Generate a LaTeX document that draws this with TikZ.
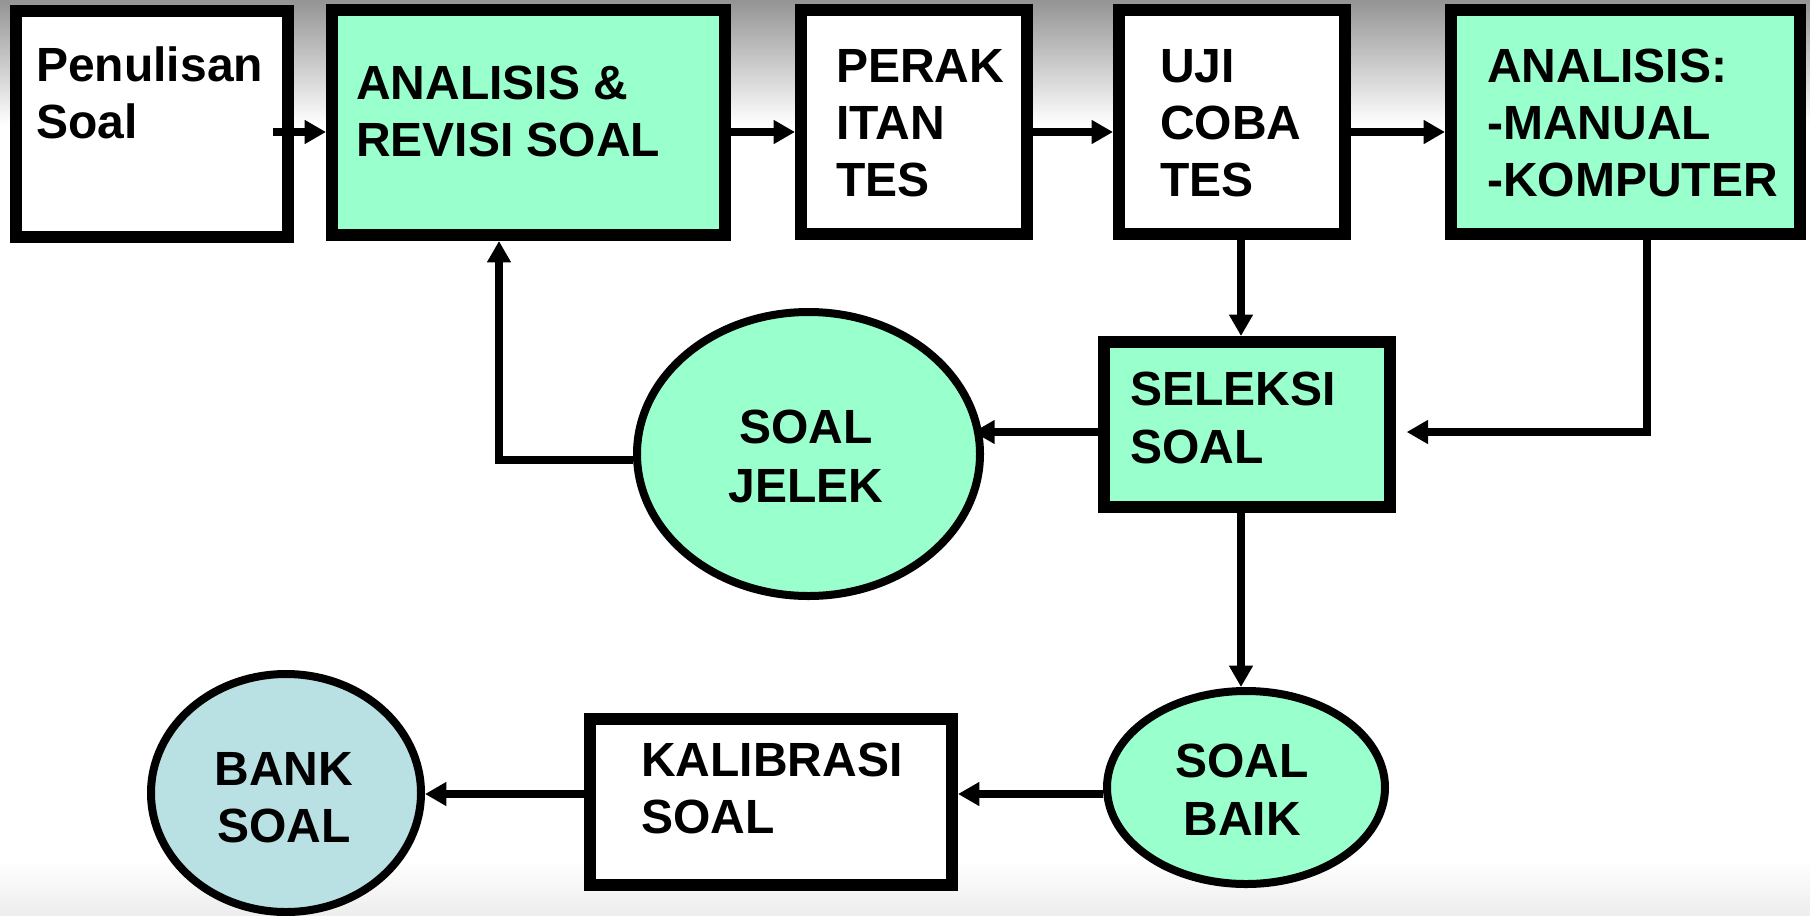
\documentclass[tikz,border=0pt]{standalone}
\usepackage{fontspec}
\setmainfont{Liberation Sans}
\usetikzlibrary{arrows.meta,shapes.geometric}
\definecolor{mint}{RGB}{153,255,204}
\definecolor{bankblue}{RGB}{185,224,227}
\begin{document}
\begin{tikzpicture}[x=0.75pt,y=-0.75pt,
  boxnode/.style={draw=black,line width=9pt,rectangle,inner sep=0pt},
  ellnode/.style={draw=black,line width=6pt,ellipse,inner sep=0pt,fill=mint},
  conn/.style={draw=black,line width=5.5pt,-{Triangle[length=16pt,width=17pt]}},
  lbl/.style={inner sep=0pt,font=\bfseries\fontsize{36pt}{43pt}\selectfont,anchor=base west},
  clbl/.style={lbl,anchor=base}]
\useasboundingbox (0,0) rectangle (1810,915);
% background shading
\fill[white] (0,0) rectangle (1810,915);
\shade[top color=black!42,bottom color=white] (0,0) rectangle (1810,125);
\shade[top color=white,bottom color=black!7] (0,860) rectangle (1810,915);
% boxes
\node[boxnode,fill=white,minimum width=204pt,minimum height=169.5pt] (pen) at (152,124) {};
\node[boxnode,fill=mint,minimum width=294.75pt,minimum height=168.75pt] (ana) at (528.5,122.5) {};
\node[boxnode,fill=white,minimum width=169.5pt,minimum height=168pt] (per) at (914,122) {};
\node[boxnode,fill=white,minimum width=169.5pt,minimum height=168pt] (uji) at (1232,122) {};
\node[boxnode,fill=mint,minimum width=261.75pt,minimum height=168pt] (anm) at (1625.5,122) {};
\node[boxnode,fill=mint,minimum width=214.5pt,minimum height=123.75pt] (sel) at (1247,424.5) {};
\node[boxnode,fill=white,minimum width=271.5pt,minimum height=124.5pt] (kal) at (771,802) {};
% ellipses
\node[ellnode,minimum width=257.25pt,minimum height=213pt] (jel) at (808.5,454) {};
\node[ellnode,minimum width=208.5pt,minimum height=144.75pt] (baik) at (1246,787.5) {};
\node[ellnode,fill=bankblue,minimum width=202.5pt,minimum height=178.5pt] (bank) at (286,793) {};
% helper coordinates
\coordinate (rowy) at (0,132);
\coordinate (colu) at (1241,0);
\coordinate (cola) at (1647,0);
\coordinate (sely) at (0,432);
\coordinate (jely) at (0,460);
\coordinate (colr) at (499,0);
\coordinate (boty) at (0,794);
% connectors
\draw[conn] ([xshift=-16pt]pen.east |- rowy) -- (ana.west |- rowy);
\draw[conn] (ana.east |- rowy) -- (per.west |- rowy);
\draw[conn] (per.east |- rowy) -- (uji.west |- rowy);
\draw[conn] (uji.east |- rowy) -- (anm.west |- rowy);
\draw[conn] (uji.south -| colu) -- (sel.north -| colu);
\draw[conn] (anm.south -| cola) |- ([xshift=8pt]sel.east |- sely);
\draw[conn] (sel.west |- sely) -- ([xshift=-8pt]jel.east |- sely);
\draw[conn] (jel.west |- jely) -| (ana.south -| colr);
\draw[conn] (sel.south -| colu) -- (baik.north -| colu);
\draw[conn] (baik.west |- boty) -- (kal.east |- boty);
\draw[conn] (kal.west |- boty) -- (bank.east |- boty);
% texts
\node[lbl] (t1a) at (36,81) {Penulisan};
\node[lbl] (t1b) at (36,138) {Soal};
\node[lbl] (t2a) at (356,99) {ANALISIS \&};
\node[lbl] (t2b) at (356,156) {REVISI SOAL};
\node[lbl] (t3a) at (836,82) {PERAK};
\node[lbl] (t3b) at (836,139) {ITAN};
\node[lbl] (t3c) at (836,196) {TES};
\node[lbl] (t4a) at (1160,82) {UJI};
\node[lbl] (t4b) at (1160,139) {COBA};
\node[lbl] (t4c) at (1160,196) {TES};
\node[lbl] (t5a) at (1487,82) {ANALISIS:};
\node[lbl] (t5b) at (1487,139) {-MANUAL};
\node[lbl] (t5c) at (1487,196) {-KOMPUTER};
\node[lbl] (t6a) at (1130,405) {SELEKSI};
\node[lbl] (t6b) at (1130,463) {SOAL};
\node[clbl] (t7a) at (806,443) {SOAL};
\node[clbl] (t7b) at (806,502) {JELEK};
\node[lbl] (t8a) at (641,776) {KALIBRASI};
\node[lbl] (t8b) at (641,833) {SOAL};
\node[clbl] (t9a) at (1242,777) {SOAL};
\node[clbl] (t9b) at (1242,835) {BAIK};
\node[clbl] (t10a) at (284,785) {BANK};
\node[clbl] (t10b) at (284,842) {SOAL};
\end{tikzpicture}
\end{document}
